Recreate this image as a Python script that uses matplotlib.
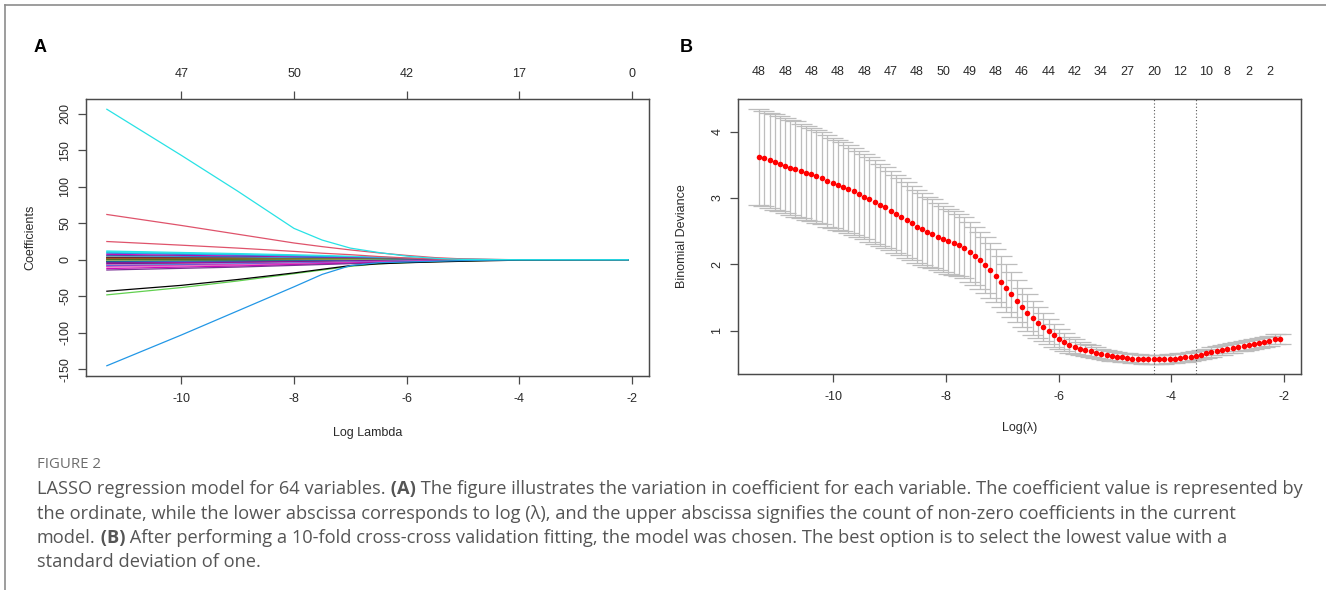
import numpy as np
import matplotlib
matplotlib.use('Agg')
import matplotlib.pyplot as plt
from matplotlib.lines import Line2D

# ---------------- data ----------------
# Panel A: coefficient paths (values read at knots of log lambda)
COEF_KNOTS = [-11.32, -10, -9, -8, -7.5, -7, -6.5, -6, -5.5, -5, -4, -2.07]
MAJOR_PATHS = [
    ('#DF536B', [25, 20, 16, 11.5, 9, 7, 4.5, 2.5, 1, 0.3, 0, 0]),
    ('#DF536B', [62, 47, 35, 23, 18, 13.5, 9.5, 6, 3, 1.2, 0, 0]),
    ('#61D04F', [-48, -38, -29, -19, -14, -9, -5.5, -4, -2.5, -1.5, 0, 0]),
    ('black',   [-43, -35, -27, -18, -13, -8, -5.5, -4, -3, -2, -0.5, 0]),
    ('#2297E6', [-145, -103, -70, -37, -20, -8, -4, -3, -2, -1, 0, 0]),
    ('#28E2E5', [206, 143, 94, 43, 27, 16, 10, 5, 2, 0.5, 0, 0]),
]
BUNDLE_KNOTS = [-11.32, -9, -7.5, -6, -5, -4, -2.07]
BUNDLE_PATHS = [
    ('#28E2E5', [12.0, 8.5, 6.0, 2.5, 0.8, 0, 0]),
    ('#28E2E5', [11.0, 7.5, 5.0, 2.0, 0.6, 0, 0]),
    ('#28E2E5', [10.0, 7.0, 4.5, 1.5, 0.3, 0, 0]),
    ('#2297E6', [9.0, 6.0, 4.0, 1.5, 0.4, 0, 0]),
    ('#CD0BBC', [7.5, 5.0, 3.0, 1.0, 0.2, 0, 0]),
    ('#5B2A86', [6.0, 4.0, 2.5, 0.8, 0.2, 0, 0]),
    ('#2297E6', [5.0, 3.5, 2.0, 0.6, 0, 0, 0]),
    ('#9E9E9E', [4.0, 2.5, 1.5, 0.5, 0, 0, 0]),
    ('black',   [3.0, 2.0, 1.2, 0.4, 0, 0, 0]),
    ('#DF536B', [2.5, 1.8, 1.0, 0.3, 0, 0, 0]),
    ('black',   [2.0, 1.4, 0.8, 0.2, 0, 0, 0]),
    ('#F5C710', [1.5, 1.0, 0.6, 0.2, 0, 0, 0]),
    ('#5A1010', [1.0, 0.8, 0.5, 0.1, 0, 0, 0]),
    ('#DF536B', [0.5, 0.4, 0.2, 0.0, 0, 0, 0]),
    ('#61D04F', [0.0, 0.5, 0.8, 0.3, 0, 0, 0]),
    ('black',   [-0.5, -0.3, -0.2, 0, 0, 0, 0]),
    ('#F5C710', [-1.0, -0.8, -0.5, -0.2, 0, 0, 0]),
    ('#9E9E9E', [-1.5, -1.0, -0.6, -0.2, 0, 0, 0]),
    ('#61D04F', [-2.0, -1.5, -1.0, -0.4, 0, 0, 0]),
    ('black',   [-2.5, -2.0, -1.5, -0.8, -0.3, 0, 0]),
    ('#2297E6', [-3.0, -2.2, -1.5, -0.6, -0.2, 0, 0]),
    ('#5B2A86', [-4.0, -3.0, -2.0, -0.8, -0.2, 0, 0]),
    ('#CD0BBC', [-5.0, -3.8, -2.6, -1.0, -0.3, 0, 0]),
    ('#3A1C71', [-6.0, -4.5, -3.0, -1.2, -0.4, 0, 0]),
    ('#E377C2', [-7.0, -5.0, -3.5, -1.5, -0.5, 0, 0]),
    ('#2297E6', [-8.0, -5.8, -4.0, -1.8, -0.6, 0, 0]),
    ('#CD0BBC', [-9.0, -6.5, -4.5, -2.0, -0.8, 0, 0]),
    ('#E377C2', [-10.0, -7.0, -5.0, -2.2, -0.8, 0, 0]),
    ('#CD0BBC', [-12.0, -8.5, -5.5, -2.5, -1.0, 0, 0]),
    ('#7B3294', [-14.0, -10.0, -6.5, -3.0, -1.0, 0, 0]),
]
A_TOP_TICKS = [-10, -8, -6, -4, -2]
A_TOP_LABELS = ['47', '50', '42', '17', '0']
X_TICKS = [-10, -8, -6, -4, -2]
A_Y_TICKS = [-150, -100, -50, 0, 50, 100, 150, 200]

# Panel B: cross-validation curve
LOG_LAMBDA = [
    -11.32, -11.23, -11.13, -11.04, -10.95, -10.85, -10.76, -10.67, -10.57, -10.48,
    -10.39, -10.30, -10.20, -10.11, -10.01, -9.92, -9.83, -9.73, -9.64, -9.55,
    -9.45, -9.36, -9.26, -9.17, -9.08, -8.98, -8.89, -8.80, -8.70, -8.61,
    -8.52, -8.42, -8.33, -8.24, -8.14, -8.05, -7.96, -7.86, -7.77, -7.68,
    -7.58, -7.49, -7.40, -7.30, -7.21, -7.12, -7.02, -6.93, -6.84, -6.74,
    -6.65, -6.56, -6.46, -6.37, -6.27, -6.18, -6.09, -5.99, -5.90, -5.81,
    -5.71, -5.62, -5.53, -5.43, -5.34, -5.25, -5.15, -5.06, -4.97, -4.87,
    -4.78, -4.69, -4.59, -4.50, -4.41, -4.31, -4.22, -4.13, -4.03, -3.94,
    -3.85, -3.75, -3.66, -3.57, -3.47, -3.38, -3.29, -3.19, -3.10, -3.01,
    -2.91, -2.82, -2.72, -2.63, -2.54, -2.44, -2.35, -2.26, -2.16, -2.07]
DEV_MEAN = [
    3.62, 3.60, 3.57, 3.54, 3.52, 3.49, 3.46, 3.44, 3.41, 3.38,
    3.36, 3.33, 3.30, 3.26, 3.23, 3.20, 3.17, 3.14, 3.10, 3.06,
    3.02, 2.98, 2.94, 2.90, 2.86, 2.81, 2.76, 2.72, 2.67, 2.62,
    2.57, 2.53, 2.49, 2.46, 2.42, 2.38, 2.35, 2.32, 2.29, 2.25,
    2.19, 2.13, 2.06, 1.99, 1.91, 1.83, 1.74, 1.64, 1.55, 1.45,
    1.35, 1.27, 1.19, 1.12, 1.05, 0.99, 0.93, 0.88, 0.83, 0.79,
    0.76, 0.73, 0.71, 0.69, 0.67, 0.65, 0.63, 0.62, 0.61, 0.60,
    0.59, 0.58, 0.58, 0.57, 0.57, 0.57, 0.57, 0.57, 0.58, 0.58,
    0.59, 0.60, 0.61, 0.62, 0.64, 0.66, 0.68, 0.70, 0.71, 0.73,
    0.74, 0.76, 0.77, 0.78, 0.80, 0.81, 0.83, 0.85, 0.87, 0.88]
DEV_SE = [
    0.72, 0.72, 0.72, 0.72, 0.72, 0.72, 0.72, 0.72, 0.71, 0.71,
    0.70, 0.70, 0.69, 0.69, 0.68, 0.68, 0.67, 0.66, 0.66, 0.65,
    0.64, 0.64, 0.63, 0.62, 0.61, 0.60, 0.59, 0.58, 0.57, 0.56,
    0.55, 0.54, 0.53, 0.52, 0.51, 0.50, 0.49, 0.48, 0.47, 0.46,
    0.45, 0.44, 0.43, 0.42, 0.41, 0.40, 0.38, 0.36, 0.34, 0.32,
    0.30, 0.28, 0.26, 0.23, 0.21, 0.19, 0.17, 0.15, 0.13, 0.12,
    0.11, 0.10, 0.09, 0.09, 0.085, 0.08, 0.075, 0.075, 0.07, 0.07,
    0.07, 0.07, 0.07, 0.07, 0.07, 0.07, 0.07, 0.07, 0.07, 0.07,
    0.07, 0.07, 0.07, 0.07, 0.07, 0.07, 0.07, 0.07, 0.072, 0.072,
    0.072, 0.072, 0.074, 0.074, 0.074, 0.075, 0.075, 0.075, 0.076, 0.076]
LAMBDA_MIN_IDX = 75
LAMBDA_1SE_IDX = 83
NZ_IDX = [0, 5, 10, 15, 20, 25, 30, 35, 40, 45, 50, 55, 60, 65, 70, 75, 80, 85, 89, 93, 97]
NZ_LABELS = ['48', '48', '48', '48', '48', '47', '48', '50', '49', '48', '46', '44',
             '42', '34', '27', '20', '12', '10', '8', '2', '2']
B_Y_TICKS = [1, 2, 3, 4]

CAPTION_HEAD = 'FIGURE 2'
CAPTION_LINES = [
    [('LASSO regression model for 64 variables.', 'normal'), (' (A)', 'bold'),
     (' The figure illustrates the variation in coefficient for each variable. The coefficient value is represented by', 'normal')],
    [('the ordinate, while the lower abscissa corresponds to log (\u03bb), and the upper abscissa signifies the count of non-zero coefficients in the current', 'normal')],
    [('model.', 'normal'), (' (B)', 'bold'),
     (' After performing a 10-fold cross-cross validation fitting, the model was chosen. The best option is to select the lowest value with a', 'normal')],
    [('standard deviation of one.', 'normal')],
]

# ---------------- figure ----------------
W, H, DPI = 1326, 590, 100
RFONT = ['Liberation Sans', 'DejaVu Sans']
CFONT = ['Open Sans', 'DejaVu Sans']
AX_COL = '#4a4a4a'
TXT_COL = '#2a2a2a'

fig = plt.figure(figsize=(W / DPI, H / DPI), dpi=DPI)
fig.patch.set_facecolor('white')


def px_rect(l, t, r, b):
    return [l / W, 1 - b / H, (r - l) / W, (b - t) / H]


def r_style(ax):
    for s in ax.spines.values():
        s.set_color(AX_COL)
        s.set_linewidth(0.9)
    ax.tick_params(direction='out', length=5.5, width=0.9, color=AX_COL,
                   labelsize=9, labelcolor=TXT_COL, pad=5)
    for lab in ax.get_xticklabels() + ax.get_yticklabels():
        lab.set_family(RFONT)
    for lab in ax.get_yticklabels():
        lab.set_rotation(90)
        lab.set_va('center')


def r_lim(lo, hi):
    d = hi - lo
    return lo - 0.04 * d, hi + 0.04 * d


# ---- Panel A ----
axA = fig.add_axes(px_rect(86, 99, 649, 376))
for col, vals in BUNDLE_PATHS:
    axA.plot(BUNDLE_KNOTS, vals, color=col, lw=0.9, solid_joinstyle='round')
for col, vals in MAJOR_PATHS:
    axA.plot(COEF_KNOTS, vals, color=col, lw=0.9, solid_joinstyle='round')
all_vals = [v for _, vs in MAJOR_PATHS + BUNDLE_PATHS for v in vs]
axA.set_xlim(*r_lim(COEF_KNOTS[0], COEF_KNOTS[-1]))
axA.set_ylim(*r_lim(min(all_vals), max(all_vals)))
axA.set_xticks(X_TICKS)
axA.set_xticklabels([str(t) for t in X_TICKS])
axA.set_yticks(A_Y_TICKS)
axA.set_yticklabels([str(t) for t in A_Y_TICKS])
r_style(axA)
axA.tick_params(axis='x', pad=7)
axA.set_xlabel('Log Lambda', fontsize=9, family=RFONT, color=TXT_COL)
axA.xaxis.set_label_coords(0.5, -0.185)
axA.set_ylabel('Coefficients', fontsize=9, family=RFONT, color=TXT_COL)
axA.yaxis.set_label_coords(-0.088, 0.5)

axAt = axA.twiny()
axAt.set_xlim(axA.get_xlim())
axAt.set_xticks(A_TOP_TICKS)
axAt.set_xticklabels(A_TOP_LABELS)
r_style(axAt)
axAt.tick_params(axis='x', pad=8)

# ---- Panel B ----
axB = fig.add_axes(px_rect(738, 99, 1301, 374))
x = np.array(LOG_LAMBDA)
m = np.array(DEV_MEAN)
se = np.array(DEV_SE)
up, lo = m + se, m - se
barw = 0.02 * (x.max() - x.min())
ecol = '#BDBDBD'
axB.vlines(x, lo, up, color=ecol, lw=0.9)
axB.hlines(up, x - barw, x + barw, color=ecol, lw=0.9)
axB.hlines(lo, x - barw, x + barw, color=ecol, lw=0.9)
axB.plot(x, m, 'o', color='#FF0000', ms=4.0, mec='none', zorder=3)
axB.axvline(x[LAMBDA_MIN_IDX], color='#555555', lw=0.8, ls=(0, (1, 2)))
axB.axvline(x[LAMBDA_1SE_IDX], color='#555555', lw=0.8, ls=(0, (1, 2)))
axB.set_xlim(*r_lim(x.min(), x.max()))
axB.set_ylim(*r_lim(lo.min(), up.max()))
axB.set_xticks(X_TICKS)
axB.set_xticklabels([str(t) for t in X_TICKS])
axB.set_yticks(B_Y_TICKS)
axB.set_yticklabels([str(t) for t in B_Y_TICKS])
r_style(axB)
axB.tick_params(axis='x', pad=7)
axB.set_xlabel('Log(\u03bb)', fontsize=9, family=RFONT, color=TXT_COL)
axB.xaxis.set_label_coords(0.5, -0.175)
axB.set_ylabel('Binomial Deviance', fontsize=9, family=RFONT, color=TXT_COL)
axB.yaxis.set_label_coords(-0.088, 0.5)

axBt = axB.twiny()
axBt.set_xlim(axB.get_xlim())
axBt.set_xticks([LOG_LAMBDA[i] for i in NZ_IDX])
axBt.set_xticklabels(NZ_LABELS)
r_style(axBt)
axBt.tick_params(axis='x', length=0, pad=15)

# ---- panel letters ----
fig.text(34 / W, 1 - 48 / H, 'A', fontsize=13, fontweight='bold', family=RFONT,
         va='center', ha='left', color='black')
fig.text(680 / W, 1 - 48 / H, 'B', fontsize=13, fontweight='bold', family=RFONT,
         va='center', ha='left', color='black')

# ---- frame lines ----
fig.add_artist(Line2D([5 / W, 1.0], [1 - 5 / H, 1 - 5 / H], color='#8c8c8c', lw=1.2))
fig.add_artist(Line2D([5 / W, 5 / W], [1 - 5 / H, 0.0], color='#8c8c8c', lw=1.2))

# ---- caption ----
renderer = fig.canvas.get_renderer()


def width_px(s, size, weight):
    t = fig.text(0, 0, s, fontsize=size, fontweight=weight, family=CFONT)
    w = t.get_window_extent(renderer).width
    t.remove()
    return w


base = 10.0
w1 = sum(width_px(s, base, wt) for s, wt in CAPTION_LINES[0])
csize = base * (1305 - 37) / w1
cap_col = '#555555'
fig.text(37 / W, 1 - 465 / H, CAPTION_HEAD, fontsize=csize * 0.82, family=CFONT,
         color='#6d6d6d', va='center', ha='left')
line_y = [489, 514, 538, 562]
for pieces, yy in zip(CAPTION_LINES, line_y):
    xc = 37.0
    for s, wt in pieces:
        t = fig.text(xc / W, 1 - yy / H, s, fontsize=csize, fontweight=wt, family=CFONT,
                     color=cap_col, va='center', ha='left')
        xc += t.get_window_extent(renderer).width

fig.savefig('out.png', dpi=DPI, facecolor='white')
